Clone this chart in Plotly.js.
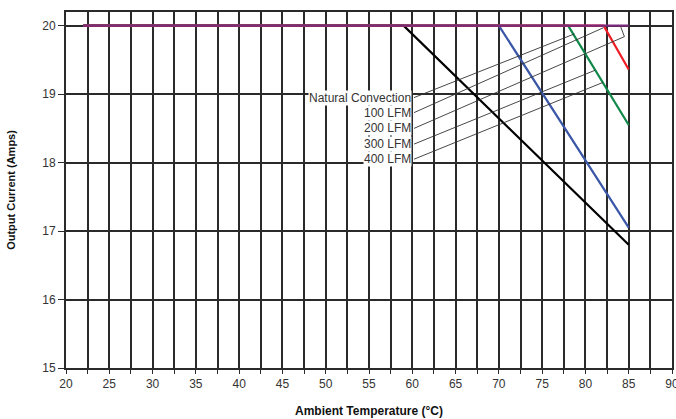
<!DOCTYPE html>
<html>
<head>
<meta charset="utf-8">
<script src="https://cdn.plot.ly/plotly-3.0.1.min.js"></script>
<style>html,body{margin:0;padding:0;background:#fff;}#chart{width:676px;height:419px;}</style>
</head>
<body>
<div id="chart"></div>
<script>
// Data
const seriesNames = ["Natural Convection", "100 LFM", "200 LFM", "300 LFM", "400 LFM"];
const tempNC = [22, 59, 85];
const currNC = [20, 20, 16.8];
const temp100 = [22, 70, 85];
const curr100 = [20, 20, 17.05];
const temp200 = [22, 78, 85];
const curr200 = [20, 20, 18.55];
const temp300 = [22, 82.1, 85];
const curr300 = [20, 20, 19.36];
const temp400 = [22, 85];
const curr400 = [20, 20];
const xTickVals = [20, 25, 30, 35, 40, 45, 50, 55, 60, 65, 70, 75, 80, 85, 90];
const yTickVals = [15, 16, 17, 18, 19, 20];

const colors = ["#000000", "#3a56a6", "#10884a", "#ee1c25", "#7b2a7e"];
const xs = [tempNC, temp100, temp200, temp300, temp400];
const ys = [currNC, curr100, curr200, curr300, curr400];

const traces = xs.map((x, i) => ({
  x: x, y: ys[i], name: seriesNames[i], mode: "lines", type: "scatter",
  line: {color: colors[i], width: 2.2}, hoverinfo: "skip"
}));

const fontFam = '"Liberation Sans", Arial, Helvetica, sans-serif';
const labelY = [18.95, 18.73, 18.50, 18.27, 18.05];
const annotations = seriesNames.map((t, i) => ({
  x: 60.0, y: labelY[i], xref: "x", yref: "y", text: t, showarrow: false,
  xanchor: "right", yanchor: "middle", bgcolor: "#ffffff", borderpad: 0,
  font: {family: fontFam, size: 12, color: "#333333"}
}));

const lc = {color: "#333333", width: 0.9};
const shapes = [
  {type: "line", xref: "x", yref: "y", x0: 60.2, y0: 18.95, x1: 78.73, y1: 19.88, line: lc},
  {type: "line", xref: "x", yref: "y", x0: 60.2, y0: 18.73, x1: 82.07, y1: 19.97, line: lc},
  {type: "path", xref: "x", yref: "y", path: "M 60.2 18.50 L 84.5 19.84 L 84.09 19.98", line: lc},
  {type: "line", xref: "x", yref: "y", x0: 60.2, y0: 18.27, x1: 81.13, y1: 19.35, line: lc},
  {type: "line", xref: "x", yref: "y", x0: 60.2, y0: 18.05, x1: 82.0, y1: 19.17, line: lc}
];

const gridC = "#2a2a2a";
const layout = {
  width: 676, height: 419,
  margin: {l: 66, r: 4, t: 12, b: 51},
  paper_bgcolor: "#ffffff", plot_bgcolor: "#ffffff",
  showlegend: false,
  font: {family: fontFam, size: 12, color: "#333333"},
  xaxis: {
    range: [20, 90], tickvals: xTickVals, ticktext: xTickVals.map(String),
    showgrid: true, gridcolor: gridC, gridwidth: 2,
    ticks: "outside", ticklen: 4, tickcolor: gridC, tickwidth: 1,
    minor: {dtick: 2.5, tick0: 20, showgrid: true, gridcolor: gridC, gridwidth: 2, ticks: "outside", ticklen: 4, tickcolor: gridC},
    showline: true, linecolor: gridC, linewidth: 2, mirror: true, zeroline: false,
    ticklabeloverflow: "allow",
    tickfont: {family: fontFam, size: 12, color: "#333333"},
    title: {text: "Ambient Temperature (°C)", font: {family: fontFam, size: 12, color: "#111111", weight: "bold"}, standoff: 16}
  },
  yaxis: {
    range: [15, 20.2], tickvals: yTickVals, ticktext: yTickVals.map(String),
    showgrid: true, gridcolor: gridC, gridwidth: 2,
    ticks: "outside", ticklen: 6, tickcolor: gridC, tickwidth: 1,
    showline: true, linecolor: gridC, linewidth: 2, mirror: true, zeroline: false,
    tickfont: {family: fontFam, size: 12, color: "#333333"},
    title: {text: "Output Current (Amps)", font: {family: fontFam, size: 11, color: "#111111", weight: "bold"}, standoff: 24}
  },
  annotations: annotations,
  shapes: shapes
};

Plotly.newPlot("chart", traces, layout, {staticPlot: true, displayModeBar: false});
</script>
</body>
</html>
